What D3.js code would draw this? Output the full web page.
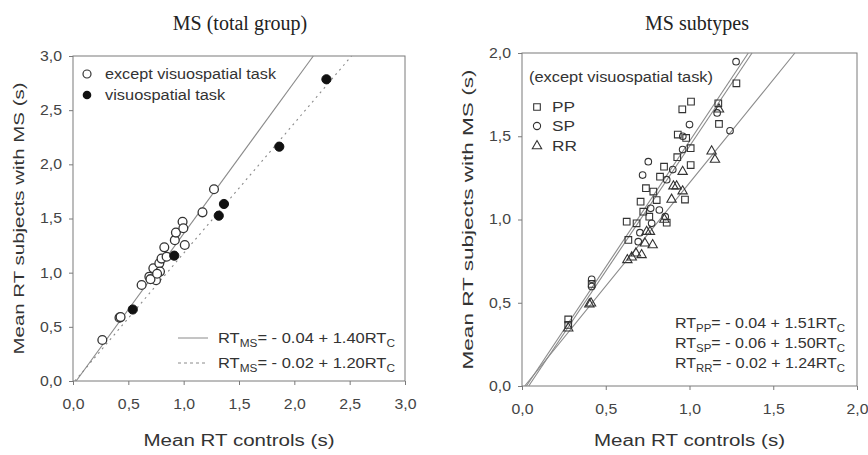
<!DOCTYPE html>
<html><head><meta charset="utf-8">
<script src="https://cdn.jsdelivr.net/npm/d3@7/dist/d3.min.js"></script>
<style>
body{margin:0;background:#fff;}
svg{display:block;}
</style></head>
<body>
<svg id="chart" width="868" height="455"></svg>
<script>
// ---- data ----
const leftTicks = [0, 0.5, 1, 1.5, 2, 2.5, 3];
const rightTicks = [0, 0.5, 1, 1.5, 2];
const openX = [0.265, 0.42, 0.43, 0.62, 0.69, 0.726, 0.75, 0.78, 0.80, 0.825, 0.846, 0.786, 0.92, 0.93, 0.99, 0.997, 1.01, 1.17, 1.274, 0.70, 0.76];
const openY = [0.378, 0.585, 0.59, 0.886, 0.963, 1.04, 0.93, 1.086, 1.13, 1.234, 1.147, 1.01, 1.30, 1.37, 1.47, 1.41, 1.255, 1.557, 1.77, 0.94, 0.99];
const filledX = [0.54, 0.915, 1.317, 1.364, 1.864, 2.29];
const filledY = [0.66, 1.157, 1.526, 1.634, 2.163, 2.785];
const leftFits = [{a: -0.04, b: 1.40, dash: null}, {a: -0.02, b: 1.20, dash: "2,4"}];

const ppX = [1.28, 0.957, 1.009, 1.172, 1.176, 0.93, 1.007, 0.927, 0.848, 1.007, 0.824, 0.74, 0.784, 0.973, 0.708, 0.804, 0.724, 0.864, 0.625, 0.684, 0.635, 0.76, 0.416, 0.276, 0.276, 0.98];
const ppY = [1.818, 1.662, 1.708, 1.698, 1.574, 1.51, 1.428, 1.374, 1.317, 1.327, 1.257, 1.188, 1.168, 1.12, 1.107, 1.117, 1.047, 0.981, 0.987, 0.977, 0.877, 1.017, 0.613, 0.40, 0.367, 1.49];
const spX = [1.278, 1.165, 1.242, 1.0, 0.96, 0.959, 0.754, 0.72, 0.864, 0.82, 0.855, 0.694, 0.774, 0.768, 0.416, 0.416, 0.9, 0.704];
const spY = [1.948, 1.64, 1.533, 1.57, 1.50, 1.42, 1.347, 1.267, 1.239, 1.057, 1.017, 0.867, 0.977, 1.067, 0.641, 0.597, 1.3, 0.921];
const rrX = [1.176, 1.132, 1.152, 0.959, 0.904, 0.923, 0.959, 0.893, 0.744, 0.764, 0.734, 0.78, 0.68, 0.714, 0.629, 0.655, 0.402, 0.412, 0.276, 0.85];
const rrY = [1.662, 1.41, 1.36, 1.287, 1.2, 1.2, 1.17, 1.12, 0.927, 0.927, 0.857, 0.847, 0.797, 0.787, 0.757, 0.773, 0.491, 0.497, 0.347, 1.0];
const rightFits = [{a: -0.04, b: 1.51}, {a: -0.06, b: 1.50}, {a: -0.02, b: 1.24}];

// ---- drawing ----
const svg = d3.select("#chart");
const axisColor = "#7a7a7a";
const textColor = "#444";
const sans = "Liberation Sans, Arial, sans-serif";
const fmt = d => d3.format(".1f")(d).replace(".", ",");

// horizontally stretch text (the reference glyphs are wide)
function stretch(sel, f, fixed) {
  sel.each(function () {
    const w = fixed || this.getComputedTextLength() * f;
    d3.select(this).attr("textLength", w).attr("lengthAdjust", "spacingAndGlyphs");
  });
}

function panel(x0, x1, y0, y1, max, ticks, title, titleX, yLabLen) {
  const x = d3.scaleLinear().domain([0, max]).range([x0, x1]);
  const y = d3.scaleLinear().domain([0, max]).range([y0, y1]);
  const g = svg.append("g");
  g.append("rect").attr("x", x0).attr("y", y1).attr("width", x1 - x0).attr("height", y0 - y1)
    .attr("fill", "none").attr("stroke", axisColor).attr("stroke-width", 1);
  const ax = g.append("g").attr("transform", `translate(0,${y0})`)
    .call(d3.axisBottom(x).tickValues(ticks).tickFormat(fmt).tickSize(4).tickPadding(14));
  const ay = g.append("g").attr("transform", `translate(${x0},0)`)
    .call(d3.axisLeft(y).tickValues(ticks).tickFormat(fmt).tickSize(4).tickPadding(7));
  [ax, ay].forEach(a => {
    a.select(".domain").remove();
    a.selectAll(".tick line").attr("stroke", axisColor);
    a.selectAll(".tick text").attr("fill", textColor).style("font-family", sans).style("font-size", "14px")
      .call(stretch, 1, 22);
  });
  svg.append("text").attr("x", titleX).attr("y", 30).attr("text-anchor", "middle")
    .style("font-family", "Liberation Serif, Times New Roman, serif").style("font-size", "20px").attr("fill", "#222")
    .text(title);
  svg.append("text").attr("x", (x0 + x1) / 2).attr("y", 446).attr("text-anchor", "middle")
    .style("font-family", sans).style("font-size", "16px").attr("fill", "#333")
    .text("Mean RT controls (s)").call(stretch, 1, 191);
  svg.append("text").attr("transform", `translate(${x0 - 49},${(y0 + y1) / 2}) rotate(-90)`).attr("text-anchor", "middle")
    .style("font-family", sans).style("font-size", "15px").attr("fill", "#333")
    .text("Mean RT subjects with MS (s)").call(stretch, 1, yLabLen);
  return {x, y, g};
}

function fitLine(p, f, max, dash) {
  const xs = Math.max(0, -f.a / f.b);
  const xe = Math.min(max, (max - f.a) / f.b);
  p.g.append("line").attr("x1", p.x(xs)).attr("y1", p.y(f.a + f.b * xs))
    .attr("x2", p.x(xe)).attr("y2", p.y(f.a + f.b * xe))
    .attr("stroke", "#8a8a8a").attr("stroke-width", 1.1)
    .attr("stroke-dasharray", dash || null);
}

function rtLabel(sel, x, y, sub, rest, anchor, len) {
  const t = sel.append("text").attr("x", x).attr("y", y).attr("text-anchor", anchor || "start")
    .style("font-family", sans).style("font-size", "14px").attr("fill", "#333");
  t.append("tspan").text("RT");
  t.append("tspan").attr("dy", 4).style("font-size", "10px").text(sub);
  t.append("tspan").attr("dy", -4).text(rest);
  t.append("tspan").attr("dy", 4).style("font-size", "10px").text("C");
  t.call(stretch, 1, len);
  return t;
}

// Left panel
const L = panel(73, 405, 381, 56, 3, leftTicks, "MS (total group)", 240, 272);
leftFits.forEach(f => fitLine(L, f, 3, f.dash));
L.g.selectAll(".open").data(openX).join("circle")
  .attr("cx", (d) => L.x(d)).attr("cy", (d, i) => L.y(openY[i])).attr("r", 4.4)
  .attr("fill", "#fff").attr("stroke", "#333").attr("stroke-width", 1.3);
L.g.selectAll(".filled").data(filledX).join("circle")
  .attr("cx", (d) => L.x(d)).attr("cy", (d, i) => L.y(filledY[i])).attr("r", 4.6)
  .attr("fill", "#111").attr("stroke", "#111");
// left legend
L.g.append("circle").attr("cx", 87).attr("cy", 74).attr("r", 4).attr("fill", "#fff").attr("stroke", "#333").attr("stroke-width", 1.2);
L.g.append("circle").attr("cx", 87).attr("cy", 95).attr("r", 4.3).attr("fill", "#111");
L.g.append("text").attr("x", 105).attr("y", 79).style("font-family", sans).style("font-size", "14px").attr("fill", "#333")
  .text("except visuospatial task").call(stretch, 1, 171);
L.g.append("text").attr("x", 105).attr("y", 100).style("font-family", sans).style("font-size", "14px").attr("fill", "#333")
  .text("visuospatial task").call(stretch, 1.17);
L.g.append("line").attr("x1", 178).attr("x2", 208).attr("y1", 338).attr("y2", 338).attr("stroke", "#8a8a8a");
L.g.append("line").attr("x1", 178).attr("x2", 208).attr("y1", 363).attr("y2", 363).attr("stroke", "#8a8a8a").attr("stroke-dasharray", "3,3");
rtLabel(L.g, 218, 343, "MS", "= - 0.04 + 1.40RT", "start", 177);
rtLabel(L.g, 218, 368, "MS", "= - 0.02 + 1.20RT", "start", 177);

// Right panel
const R = panel(522, 857, 386, 53, 2, rightTicks, "MS subtypes", 697, 300);
rightFits.forEach(f => fitLine(R, f, 2));
const sq = d3.symbol().type(d3.symbolSquare).size(44);
const tri = d3.symbol().type(d3.symbolTriangle).size(38);
R.g.selectAll(".pp").data(ppX).join("path").attr("d", sq)
  .attr("transform", (d, i) => `translate(${R.x(d)},${R.y(ppY[i])})`)
  .attr("fill", "none").attr("stroke", "#333").attr("stroke-width", 1.1);
R.g.selectAll(".sp").data(spX).join("circle")
  .attr("cx", d => R.x(d)).attr("cy", (d, i) => R.y(spY[i])).attr("r", 3.3)
  .attr("fill", "none").attr("stroke", "#333").attr("stroke-width", 1.1);
R.g.selectAll(".rr").data(rrX).join("path").attr("d", tri)
  .attr("transform", (d, i) => `translate(${R.x(d)},${R.y(rrY[i])})`)
  .attr("fill", "none").attr("stroke", "#333").attr("stroke-width", 1.1);
// right legend
R.g.append("text").attr("x", 529).attr("y", 82).style("font-family", sans).style("font-size", "14px").attr("fill", "#333")
  .text("(except visuospatial task)").call(stretch, 1, 184);
R.g.append("path").attr("d", sq).attr("transform", "translate(537,107)").attr("fill", "none").attr("stroke", "#333").attr("stroke-width", 1.1);
R.g.append("circle").attr("cx", 537).attr("cy", 126).attr("r", 3.6).attr("fill", "none").attr("stroke", "#333").attr("stroke-width", 1.1);
R.g.append("path").attr("d", tri).attr("transform", "translate(537,146)").attr("fill", "none").attr("stroke", "#333").attr("stroke-width", 1.1);
[["PP", 112], ["SP", 131], ["RR", 151]].forEach(([t, yy]) =>
  R.g.append("text").attr("x", 552).attr("y", yy).style("font-family", sans).style("font-size", "15px").attr("fill", "#333")
    .text(t).call(stretch, 1.15));
rtLabel(R.g, 845, 328, "PP", "= - 0.04 + 1.51RT", "end", 170);
rtLabel(R.g, 845, 348, "SP", "= - 0.06 + 1.50RT", "end", 170);
rtLabel(R.g, 845, 368, "RR", "= - 0.02 + 1.24RT", "end", 170);
</script>
</body></html>
